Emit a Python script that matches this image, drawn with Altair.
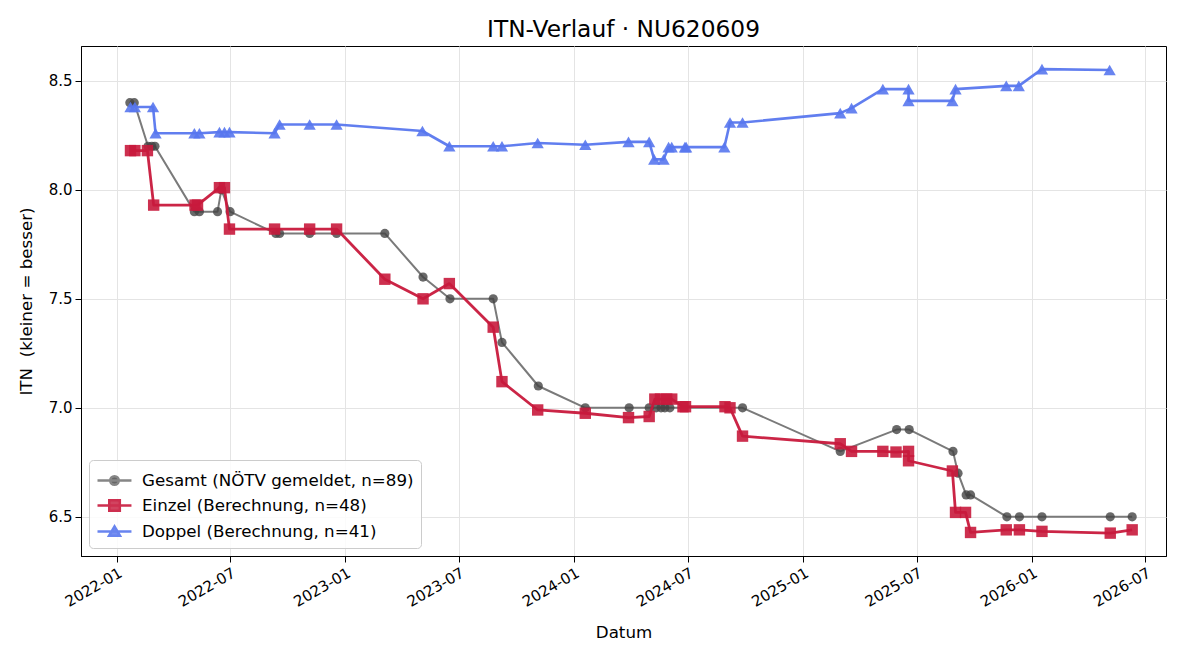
import altair as alt
import pandas as pd

# ---------------- data ----------------
series_names = ["Gesamt", "Einzel", "Doppel"]
legend_labels = [
    "Gesamt (NÖTV gemeldet, n=89)",
    "Einzel (Berechnung, n=48)",
    "Doppel (Berechnung, n=41)",
]

gesamt_dates = [
    "2022-01-22", "2022-01-29", "2022-02-20", "2022-02-26", "2022-03-03",
    "2022-05-05", "2022-05-13", "2022-06-11", "2022-06-17", "2022-07-01",
    "2022-09-12", "2022-09-18", "2022-11-05", "2022-12-18", "2023-03-05",
    "2023-05-05", "2023-06-17", "2023-08-25", "2023-09-08", "2023-11-05",
    "2024-01-19", "2024-03-29", "2024-04-30", "2024-05-11", "2024-05-19",
    "2024-05-25", "2024-06-02", "2024-09-26", "2025-03-01", "2025-05-30",
    "2025-06-19", "2025-08-28", "2025-09-05", "2025-09-18", "2025-09-25",
    "2025-11-22", "2025-12-12", "2026-01-17", "2026-05-06", "2026-06-10",
]
gesamt_values = [
    8.4, 8.4, 8.2, 8.2, 8.2,
    7.9, 7.9, 7.9, 8.0, 7.9,
    7.8, 7.8, 7.8, 7.8, 7.8,
    7.6, 7.5, 7.5, 7.3, 7.1,
    7.0, 7.0, 7.0, 7.0, 7.0,
    7.0, 7.0, 7.0, 6.8, 6.9,
    6.9, 6.8, 6.7, 6.6, 6.6,
    6.5, 6.5, 6.5, 6.5, 6.5,
]

einzel_dates = [
    "2022-01-23", "2022-01-30", "2022-02-19", "2022-03-01", "2022-05-06",
    "2022-05-10", "2022-06-14", "2022-06-22", "2022-06-30", "2022-09-10",
    "2022-11-05", "2022-12-18", "2023-03-05", "2023-05-05", "2023-06-16",
    "2023-08-25", "2023-09-08", "2023-11-04", "2024-01-19", "2024-03-28",
    "2024-04-30", "2024-05-09", "2024-05-18", "2024-05-28", "2024-06-05",
    "2024-06-23", "2024-06-27", "2024-08-29", "2024-09-06", "2024-09-26",
    "2025-03-01", "2025-03-19", "2025-05-08", "2025-05-29", "2025-06-18",
    "2025-06-18", "2025-08-27", "2025-09-01", "2025-09-17", "2025-09-25",
    "2025-11-21", "2025-12-12", "2026-01-17", "2026-05-06", "2026-06-10",
]
einzel_values = [
    8.18, 8.18, 8.18, 7.93, 7.93,
    7.93, 8.01, 8.01, 7.82, 7.82,
    7.82, 7.82, 7.59, 7.50, 7.57,
    7.37, 7.12, 6.99, 6.975, 6.955,
    6.96, 7.04, 7.04, 7.04, 7.04,
    7.005, 7.005, 7.005, 7.0, 6.87,
    6.835, 6.80, 6.80, 6.797, 6.80,
    6.757, 6.71, 6.52, 6.52, 6.428,
    6.44, 6.44, 6.433, 6.425, 6.44,
]

doppel_dates = [
    "2022-01-23", "2022-01-30", "2022-02-28", "2022-03-04", "2022-05-05",
    "2022-05-13", "2022-06-14", "2022-06-22", "2022-06-30", "2022-09-10",
    "2022-09-18", "2022-11-05", "2022-12-18", "2023-05-04", "2023-06-16",
    "2023-08-25", "2023-09-08", "2023-11-04", "2024-01-19", "2024-03-28",
    "2024-04-30", "2024-05-08", "2024-05-23", "2024-05-31", "2024-06-05",
    "2024-06-26", "2024-06-28", "2024-08-28", "2024-09-06", "2024-09-26",
    "2025-03-01", "2025-03-19", "2025-05-08", "2025-06-18", "2025-06-18",
    "2025-08-27", "2025-09-01", "2025-11-21", "2025-12-11", "2026-01-17",
    "2026-05-05",
]
doppel_values = [
    8.38, 8.38, 8.38, 8.26, 8.26,
    8.26, 8.265, 8.265, 8.265, 8.26,
    8.30, 8.30, 8.30, 8.27, 8.20,
    8.20, 8.20, 8.215, 8.207, 8.22,
    8.22, 8.14, 8.14, 8.196, 8.196,
    8.196, 8.196, 8.196, 8.309, 8.309,
    8.352, 8.375, 8.462, 8.462, 8.408,
    8.408, 8.462, 8.477, 8.477, 8.554,
    8.55,
]

x_tick_years_months = [(2022, 1), (2022, 7), (2023, 1), (2023, 7), (2024, 1),
                       (2024, 7), (2025, 1), (2025, 7), (2026, 1), (2026, 7)]
y_ticks = [6.5, 7.0, 7.5, 8.0, 8.5]

# ---------------- styles ----------------
FONT = "DejaVu Sans"
line_colors = ["#7a7a7a", "#c8193c", "#5877ee"]
marker_colors = ["#444444", "#c8193c", "#5877ee"]
line_widths = [2.0, 2.8, 2.6]
line_opacity = [1.0, 0.95, 0.95]
marker_shapes = ["circle", "square", "triangle-up"]
marker_sizes = [85, 130, 150]
marker_opacity = [0.8, 0.9, 0.9]
# legend handles: a line with the marker in its middle (1 unit = 12 px)
legend_paths = [
    "M-1,0H1.83M0.77,0A0.354,0.354,0,1,1,0.062,0A0.354,0.354,0,1,1,0.77,0Z",
    "M-1,0H1.83M-0.02,-0.44H0.86V0.44H-0.02Z",
    "M-1,0H1.83M0.417,-0.42L0.875,0.36H-0.041Z",
]

# ---------------- table ----------------
rows = []
for name, label, dates, vals in zip(
    series_names, legend_labels,
    [gesamt_dates, einzel_dates, doppel_dates],
    [gesamt_values, einzel_values, doppel_values],
):
    for i, (d, v) in enumerate(zip(dates, vals)):
        rows.append({"series": name, "label": label, "date": d, "itn": v, "idx": i})
df = pd.DataFrame(rows)

x_enc = alt.X(
    "date:T",
    scale=alt.Scale(
        type="utc",
        domain=[alt.DateTime(year=2021, month=11, date=5, utc=True),
                alt.DateTime(year=2026, month=8, date=3, utc=True)],
        nice=False,
    ),
    axis=alt.Axis(
        values=[alt.DateTime(year=y, month=m, date=1, utc=True) for y, m in x_tick_years_months],
        format="%Y-%m",
        labelAngle=330,
        labelAlign="right",
        labelBaseline="top",
        title="Datum",
        titlePadding=15,
    ),
)
y_enc = alt.Y(
    "itn:Q",
    scale=alt.Scale(domain=[6.32, 8.66], nice=False, zero=False),
    axis=alt.Axis(values=y_ticks, format=".1f", title="ITN \u00a0(kleiner = besser)", titlePadding=13),
)

base = alt.Chart(df)
layers = []
for k, name in enumerate(series_names):
    sub = base.transform_filter(alt.datum.series == name)
    layers.append(
        sub.mark_line(color=line_colors[k], strokeWidth=line_widths[k],
                      opacity=line_opacity[k], strokeJoin="round")
        .encode(x=x_enc, y=y_enc, order="idx:Q")
    )
    layers.append(
        sub.mark_point(filled=True, shape=marker_shapes[k], size=marker_sizes[k],
                       color=marker_colors[k], opacity=marker_opacity[k])
        .encode(x=x_enc, y=y_enc)
    )

leg = alt.Legend(
    title=None,
    orient="bottom-left",
    offset=8,
    padding=7,
    fillColor="rgba(255,255,255,0.85)",
    strokeColor="#cccccc",
    cornerRadius=4,
    labelFont=FONT,
    labelFontSize=16.7,
    labelColor="black",
    labelOffset=19,
    labelLimit=0,
    rowPadding=2,
    symbolSize=576,
    symbolStrokeWidth=2.5,
)
legend_layer = (
    base.transform_filter("datum.itn < 0")
    .mark_point(filled=True, strokeWidth=2.5, opacity=0.9)
    .encode(
        x=x_enc,
        y=y_enc,
        shape=alt.Shape("label:N", scale=alt.Scale(domain=legend_labels, range=legend_paths), legend=leg),
        fill=alt.Fill("label:N", scale=alt.Scale(domain=legend_labels, range=marker_colors), legend=leg),
        stroke=alt.Stroke("label:N", scale=alt.Scale(domain=legend_labels, range=line_colors), legend=leg),
    )
)
layers.append(legend_layer)

chart = (
    alt.layer(*layers)
    .properties(
        width=1085,
        height=510,
        title=alt.Title("ITN-Verlauf · NU620609", font=FONT, fontSize=23.3,
                        fontWeight="normal", color="black", anchor="middle", offset=4),
        autosize=alt.AutoSizeParams(type="none"),
        padding={"left": 81, "top": 46, "right": 34, "bottom": 104},
        background="white",
    )
    .configure_view(stroke="black", strokeWidth=1)
    .configure_axis(
        labelFont=FONT, labelFontSize=15, labelColor="black",
        titleFont=FONT, titleFontSize=16.7, titleFontWeight="normal", titleColor="black",
        domainColor="black", domainWidth=1,
        tickColor="black", tickSize=6, tickWidth=1, labelPadding=3,
        grid=True, gridColor="#e4e4e4", gridWidth=1,
    )
)

chart.save("out.html", embed_options={"renderer": "svg", "actions": False})
